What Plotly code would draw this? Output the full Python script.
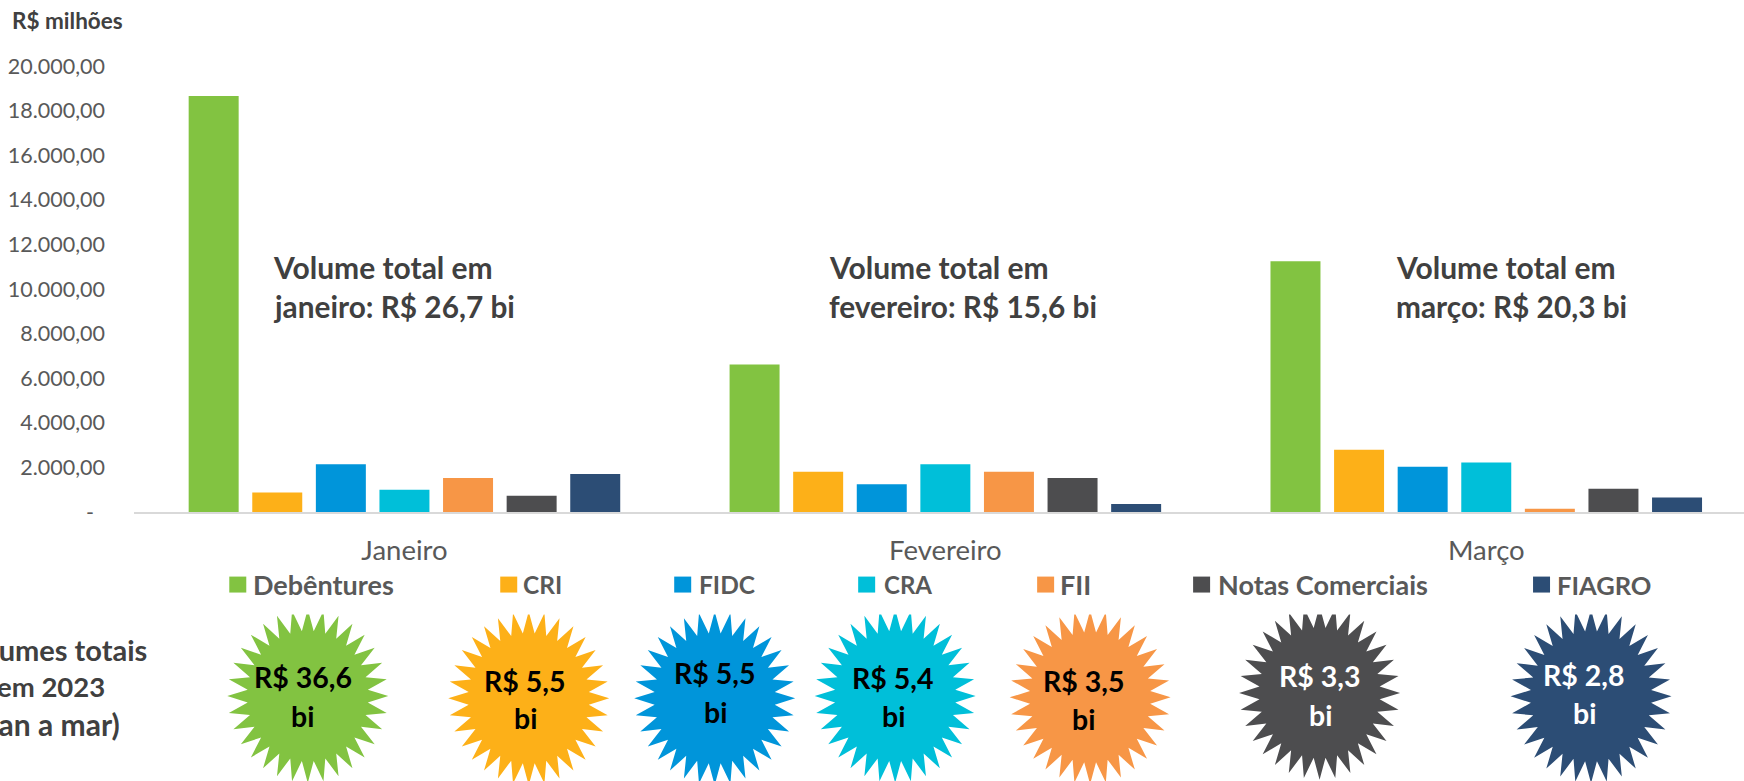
import plotly.graph_objects as go
import math

# ---------- data ----------
months = ["Janeiro", "Fevereiro", "Março"]
debentures = [18650, 6610, 11250]
cri = [880, 1800, 2790]
fidc = [2140, 1250, 2030]
cra = [1000, 2140, 2225]
fii = [1520, 1800, 145]
notas = [730, 1520, 1045]
fiagro = [1700, 360, 645]
series_names = ["Debêntures", "CRI", "FIDC", "CRA", "FII", "Notas Comerciais", "FIAGRO"]
y_ticks = [0, 2000, 4000, 6000, 8000, 10000, 12000, 14000, 16000, 18000, 20000]
y_labels = ["-\u00a0\u00a0", "2.000,00", "4.000,00", "6.000,00", "8.000,00", "10.000,00",
            "12.000,00", "14.000,00", "16.000,00", "18.000,00", "20.000,00"]
totals = ["R$ 36,6", "R$ 5,5", "R$ 5,5", "R$ 5,4", "R$ 3,5", "R$ 3,3", "R$ 2,8"]
month_notes = [("Volume total em", "janeiro: R$ 26,7 bi"),
               ("Volume total em", "fevereiro: R$ 15,6 bi"),
               ("Volume total em", "março: R$ 20,3 bi")]
side_note = ["Volumes totais", "em 2023", "(jan a mar)"]

# ---------- style / layout ----------
W, H = 1744, 781
L, T, B = 133.7, 65.5, 512.3
FONT = "Lato, Carlito, Calibri, sans-serif"
colors = ["#82C341", "#FDB018", "#0095DA", "#00BFD9", "#F79646", "#4D4D4F", "#2C4D75"]
text_on_star = ["#000000"] * 5 + ["#FFFFFF"] * 2
all_series = [debentures, cri, fidc, cra, fii, notas, fiagro]


def px(x):
    return (x - L) / (W - L)


def py(y):
    return (B - y) / (B - T)


fig = go.Figure()
for name, vals, col in zip(series_names, all_series, colors):
    fig.add_bar(name=name, x=months, y=vals, marker_color=col, marker_line_width=0)

annotations = []
shapes = []


def label(x, y, text, size, color="#404040", bold=True, anchor="left"):
    annotations.append(dict(
        xref="paper", yref="paper", x=px(x), y=py(y), xanchor=anchor, yanchor="middle",
        text=f"<b>{text}</b>" if bold else text, showarrow=False,
        font=dict(family=FONT, size=size, color=color)))


# unit label
label(9.5, 20, "R$ milhões", 22.5)

# month notes
for x, (a, b) in zip([271, 827, 1394], month_notes):
    label(x, 267, a, 30)
    label(x, 306, b, 29.8)

# hand-spaced legend
leg_sq = [229, 500, 674, 858, 1037, 1193, 1533]
leg_tx = [251, 521, 697, 882, 1058, 1216, 1555]
leg_size = [27, 24.5, 24.5, 24, 27, 27, 25.5]
for n, c, sx, tx, sz in zip(series_names, colors, leg_sq, leg_tx, leg_size):
    shapes.append(dict(type="rect", xref="paper", yref="paper", x0=px(sx), x1=px(sx + 17),
                       y0=py(593), y1=py(577), fillcolor=c, line_width=0))
    label(tx, 585, n, sz, color="#595959")

# side note (runs off the left page edge as in the source)
for x, y, sz, t in zip([51, 51, 51], [650, 687, 725], [29, 27.5, 30], side_note):
    label(x, y, t, sz, anchor="center")

# starbursts
TOP_CLIP = 615
star_cx = [307.5, 528.5, 714.5, 895, 1090, 1319.5, 1591]
star_cy = [696.7, 699, 699, 696.7, 698, 693.5, 697]
tx1 = [302.5, 525, 715, 893, 1083.5, 1320, 1584]
ty1 = [678, 682, 674, 679, 682, 677, 676]
ty2 = [717, 719, 713, 717, 720, 716, 714]


def star_path(cx, cy, rx=80.5, ry=87, ratio=0.75, n=32):
    pts = []
    for i in range(2 * n):
        a = math.pi * i / n
        k = 1 if i % 2 == 0 else ratio
        pts.append((cx + rx * k * math.sin(a), cy - ry * k * math.cos(a)))
    out = []
    for i, p in enumerate(pts):
        q = pts[(i + 1) % len(pts)]
        if p[1] >= TOP_CLIP:
            out.append(p)
        if (p[1] >= TOP_CLIP) != (q[1] >= TOP_CLIP):
            t = (TOP_CLIP - p[1]) / (q[1] - p[1])
            out.append((p[0] + t * (q[0] - p[0]), TOP_CLIP))
    return "M " + " L ".join(f"{px(x):.5f},{py(y):.5f}" for x, y in out) + " Z"


for i, c in enumerate(colors):
    shapes.append(dict(type="path", xref="paper", yref="paper",
                       path=star_path(star_cx[i], star_cy[i]), fillcolor=c, line_width=0))
    label(tx1[i], ty1[i], totals[i], 28.5, color=text_on_star[i], anchor="center")
    label(tx1[i], ty2[i], "bi", 28.5, color=text_on_star[i], anchor="center")

fig.update_layout(
    width=W, height=H, autosize=False,
    margin=dict(l=L, r=0, t=T, b=H - B, pad=0),
    paper_bgcolor="white", plot_bgcolor="white",
    barmode="group", bargap=0.177, bargroupgap=0.214,
    showlegend=False,
    annotations=annotations, shapes=shapes,
    font=dict(family=FONT, color="#595959"),
    xaxis=dict(type="category", range=[-0.5, 2.4765], showgrid=False, zeroline=False,
               showline=True, linecolor="#D9D9D9", linewidth=2, ticks="",
               tickfont=dict(size=27.5, color="#595959"), ticklabelstandoff=13),
    yaxis=dict(range=[0, 20000], tickvals=y_ticks, ticktext=y_labels, showgrid=False,
               zeroline=False, showline=False, ticks="",
               tickfont=dict(size=21.5, color="#595959"), ticklabelstandoff=28),
)

fig.write_html("out.html", config={"displayModeBar": False},
               post_script="document.body.style.margin='0';document.body.style.overflow='hidden';")
